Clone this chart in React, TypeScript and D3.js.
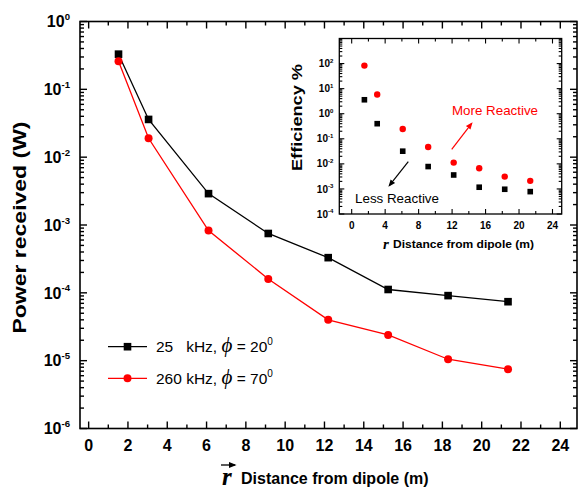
import React, { useEffect, useRef } from "react";
import * as d3 from "d3";

// distance in metres (5, 10, 20 ... 70 ft)
const distance = [1.52, 3.05, 6.1, 9.14, 12.19, 15.24, 18.29, 21.34];
// power received (W)
const power25k = [0.33, 0.036, 2.9e-3, 7.5e-4, 3.3e-4, 1.12e-4, 9.1e-5, 7.4e-5];
const power260k = [0.26, 0.019, 8.3e-4, 1.6e-4, 4.0e-5, 2.4e-5, 1.05e-5, 7.5e-6];
// efficiency % (inset)
const eff25k = [3.6, 0.4, 0.032, 7.8e-3, 3.6e-3, 1.17e-3, 9.7e-4, 7.8e-4];
const eff260k = [83, 5.8, 0.245, 0.047, 0.0112, 6.7e-3, 3.1e-3, 2.1e-3];

const mainXTicks = [0, 2, 4, 6, 8, 10, 12, 14, 16, 18, 20, 22, 24];
const mainYExps = [0, -1, -2, -3, -4, -5, -6];
const insetXTicks = [0, 4, 8, 12, 16, 20, 24];
const insetYExps = [2, 1, 0, -1, -2, -3, -4];

const legendLabels = [
  { pre: "25   kHz, ", post: " = 20" },
  { pre: "260 kHz, ", post: " = 70" },
];

const SANS = "'Liberation Sans', Arial, sans-serif";
const SERIF = "'Liberation Serif', 'Times New Roman', serif";

function frame(g: any, x: any, y: any, o: any) {
  const [x0, x1] = x.range();
  const [y0, y1] = y.range(); // y0 bottom, y1 top
  g.append("rect")
    .attr("x", x0).attr("y", y1)
    .attr("width", x1 - x0).attr("height", y0 - y1)
    .attr("fill", "none").attr("stroke", "#000").attr("stroke-width", o.sw);

  const lines = g.append("g").attr("stroke", "#000").attr("stroke-width", o.tw);
  const xt = (v: number, len: number) => {
    lines.append("line").attr("x1", x(v)).attr("x2", x(v)).attr("y1", y0).attr("y2", y0 - len);
    lines.append("line").attr("x1", x(v)).attr("x2", x(v)).attr("y1", y1).attr("y2", y1 + len);
  };
  const yt = (v: number, len: number) => {
    lines.append("line").attr("y1", y(v)).attr("y2", y(v)).attr("x1", x0).attr("x2", x0 + len);
    lines.append("line").attr("y1", y(v)).attr("y2", y(v)).attr("x1", x1).attr("x2", x1 - len);
  };
  o.xMajor.forEach((v: number) => xt(v, o.major));
  o.xMinor.forEach((v: number) => xt(v, o.minor));
  o.yExps.forEach((e: number) => yt(Math.pow(10, e), o.major));
  o.yExps.slice(0, -1).forEach((e: number) => {
    for (let k = 2; k <= 9; k++) yt(k * Math.pow(10, e - 1), o.minor);
  });
  if (o.yTop) for (let k = 2; k <= 9; k++) {
    const v = k * Math.pow(10, o.yExps[0]);
    if (v <= y.domain()[1]) yt(v, o.minor);
  }

  o.xMajor.forEach((v: number) => {
    g.append("text")
      .attr("x", x(v)).attr("y", y0 + o.xLabDy)
      .attr("text-anchor", "middle")
      .attr("font-family", SANS).attr("font-weight", "bold")
      .attr("font-size", o.fs)
      .text(v);
  });
  o.yExps.forEach((e: number) => {
    const t = g.append("text")
      .attr("x", x0 - o.yLabDx).attr("y", y(Math.pow(10, e)) + o.fs * 0.36)
      .attr("text-anchor", "end")
      .attr("font-family", SANS).attr("font-weight", "bold")
      .attr("font-size", o.fs);
    t.append("tspan").text("10");
    t.append("tspan").attr("dy", -o.fs * 0.45).attr("font-size", o.fs * 0.6).text(e);
  });
}

export default function App() {
  const ref = useRef<SVGSVGElement>(null);

  useEffect(() => {
    const svg = d3.select(ref.current);
    svg.selectAll("*").remove();

    const defs = svg.append("defs");
    [["arrRed", "red"], ["arrBlack", "#000"]].forEach(([id, c]) => {
      defs.append("marker")
        .attr("id", id).attr("viewBox", "0 0 10 10")
        .attr("refX", 8).attr("refY", 5)
        .attr("markerWidth", 6).attr("markerHeight", 6)
        .attr("orient", "auto")
        .append("path").attr("d", "M0,1L10,5L0,9Z").attr("fill", c);
    });

    // ---- main chart ----
    const x = d3.scaleLinear().domain([-0.44, 24.85]).range([80, 577]);
    const y = d3.scaleLog().domain([1e-6, 1]).range([428.5, 21.5]);
    const main = svg.append("g");
    frame(main, x, y, {
      sw: 1.6, tw: 1.4, major: 7, minor: 4,
      xMajor: mainXTicks, xMinor: d3.range(1, 25, 2),
      yExps: mainYExps, fs: 16, xLabDy: 22, yLabDx: 10,
    });

    const line = d3.line<number>()
      .x((d, i) => x(distance[i]))
      .y((d) => y(d));

    main.append("path").attr("d", line(power25k))
      .attr("fill", "none").attr("stroke", "#000").attr("stroke-width", 1.3);
    main.append("path").attr("d", line(power260k))
      .attr("fill", "none").attr("stroke", "red").attr("stroke-width", 1.3);

    main.selectAll(".sq").data(power25k).enter().append("rect")
      .attr("x", (d, i) => x(distance[i]) - 3.8).attr("y", (d) => y(d) - 3.8)
      .attr("width", 7.6).attr("height", 7.6).attr("fill", "#000");
    main.selectAll(".ci").data(power260k).enter().append("circle")
      .attr("cx", (d, i) => x(distance[i])).attr("cy", (d) => y(d))
      .attr("r", 4).attr("fill", "red");

    // legend
    const legColors = ["#000", "red"];
    const legY = [346.7, 378.3];
    legendLabels.forEach((l, i) => {
      main.append("line")
        .attr("x1", 108).attr("x2", 147).attr("y1", legY[i]).attr("y2", legY[i])
        .attr("stroke", legColors[i]).attr("stroke-width", 1.3);
      if (i === 0) {
        main.append("rect").attr("x", 127.5 - 3.8).attr("y", legY[i] - 3.8)
          .attr("width", 7.6).attr("height", 7.6).attr("fill", "#000");
      } else {
        main.append("circle").attr("cx", 127.5).attr("cy", legY[i]).attr("r", 4).attr("fill", "red");
      }
      const t = main.append("text")
        .attr("x", 156).attr("y", legY[i] + 5.5)
        .attr("font-family", SANS).attr("font-size", 15.5)
        .style("white-space", "pre");
      t.append("tspan").text(l.pre);
      t.append("tspan").attr("font-family", SERIF).attr("font-style", "italic")
        .attr("font-size", 21).text("\u03D5");
      t.append("tspan").text(l.post);
      t.append("tspan").attr("dy", -7).attr("font-size", 10).text("0");
    });

    // axis titles
    svg.append("text")
      .attr("transform", "translate(26,227.5) rotate(-90)")
      .attr("text-anchor", "middle")
      .attr("font-family", SANS).attr("font-weight", "bold").attr("font-size", 19)
      .attr("textLength", 212).attr("lengthAdjust", "spacingAndGlyphs")
      .text("Power received (W)");

    svg.append("text")
      .attr("x", 222).attr("y", 485)
      .attr("font-family", SERIF).attr("font-weight", "bold").attr("font-style", "italic")
      .attr("font-size", 25).text("r");
    svg.append("line")
      .attr("x1", 221).attr("x2", 235).attr("y1", 465).attr("y2", 465)
      .attr("stroke", "#000").attr("stroke-width", 1.3)
      .attr("marker-end", "url(#arrBlack)");
    svg.append("text")
      .attr("x", 241).attr("y", 484)
      .attr("font-family", SANS).attr("font-weight", "bold").attr("font-size", 16)
      .text("Distance from dipole (m)");

    // ---- inset ----
    const ix = d3.scaleLinear().domain([-1.48, 25.1]).range([339.3, 561.7]);
    const iy = d3.scaleLog().domain([1e-4, 1e3]).range([214, 38.5]);
    const inset = svg.append("g");
    inset.append("rect").attr("x", 339.3).attr("y", 38.5)
      .attr("width", 561.7 - 339.3).attr("height", 214 - 38.5).attr("fill", "#fff");
    frame(inset, ix, iy, {
      sw: 1.3, tw: 1.1, major: 5, minor: 3,
      xMajor: insetXTicks, xMinor: d3.range(2, 25, 4),
      yExps: insetYExps, yTop: true, fs: 10, xLabDy: 15, yLabDx: 6,
    });

    inset.selectAll(".isq").data(eff25k).enter().append("rect")
      .attr("x", (d, i) => ix(distance[i]) - 2.8).attr("y", (d) => iy(d) - 2.8)
      .attr("width", 5.6).attr("height", 5.6).attr("fill", "#000");
    inset.selectAll(".ici").data(eff260k).enter().append("circle")
      .attr("cx", (d, i) => ix(distance[i])).attr("cy", (d) => iy(d))
      .attr("r", 3.2).attr("fill", "red");

    inset.append("text")
      .attr("transform", "translate(302,117.5) rotate(-90)")
      .attr("text-anchor", "middle")
      .attr("font-family", SANS).attr("font-weight", "bold").attr("font-size", 14)
      .attr("textLength", 107).attr("lengthAdjust", "spacingAndGlyphs")
      .text("Efficiency %");
    inset.append("text")
      .attr("x", 383).attr("y", 249)
      .attr("font-family", SERIF).attr("font-weight", "bold").attr("font-style", "italic")
      .attr("font-size", 15).text("r");
    inset.append("text")
      .attr("x", 393).attr("y", 248)
      .attr("font-family", SANS).attr("font-weight", "bold").attr("font-size", 11.5)
      .attr("textLength", 141).attr("lengthAdjust", "spacingAndGlyphs")
      .text("Distance from dipole (m)");

    // annotations
    inset.append("line")
      .attr("x1", 451.7).attr("y1", 149.3).attr("x2", 471.7).attr("y2", 123.3)
      .attr("stroke", "red").attr("stroke-width", 1.2).attr("marker-end", "url(#arrRed)");
    inset.append("text")
      .attr("x", 452).attr("y", 114.5)
      .attr("font-family", SANS).attr("font-size", 13).attr("fill", "red")
      .attr("textLength", 86).attr("lengthAdjust", "spacingAndGlyphs")
      .text("More Reactive");
    inset.append("line")
      .attr("x1", 408.3).attr("y1", 161.7).attr("x2", 389.3).attr("y2", 185.7)
      .attr("stroke", "#000").attr("stroke-width", 1.2).attr("marker-end", "url(#arrBlack)");
    inset.append("text")
      .attr("x", 355).attr("y", 202.5)
      .attr("font-family", SANS).attr("font-size", 13).attr("fill", "#000")
      .attr("textLength", 84).attr("lengthAdjust", "spacingAndGlyphs")
      .text("Less Reactive");
  }, []);

  return (
    <svg ref={ref} width={579} height={492}
      style={{ position: "absolute", left: 0, top: 0, background: "#fff" }} />
  );
}
